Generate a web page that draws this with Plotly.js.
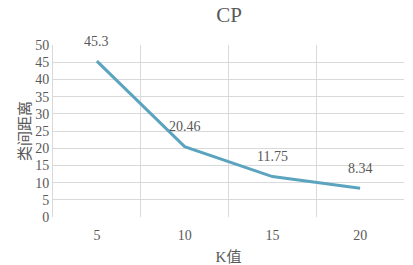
<!DOCTYPE html>
<html><head><meta charset="utf-8">
<script src="https://cdn.plot.ly/plotly-3.0.1.min.js"></script>
<style>html,body{margin:0;padding:0;background:#fff}#c{width:413px;height:265px}</style>
</head><body><div id="c"></div>
<script>
const categories = ['5', '10', '15', '20'];
const values = [45.3, 20.46, 11.75, 8.34];
const labels = ['45.3', '20.46', '11.75', '8.34'];
const chartTitle = 'CP';
const xTitle = 'K值';
const yTitle = '类间距离';

const serif = 'Liberation Serif, Times New Roman, Noto Serif CJK SC, Noto Sans CJK SC, serif';
const cjk = 'Liberation Serif, Noto Sans CJK SC, sans-serif';
const grid = '#d9d9d9';
const txt = '#595959';

const trace = {
  x: categories, y: values, type: 'scatter', mode: 'lines',
  line: {color: '#5BA4BF', width: 3}, hoverinfo: 'none'
};
const annotations = categories.map((c, i) => ({
  x: i, y: values[i], text: labels[i], showarrow: false, yshift: 20,
  font: {family: serif, size: 14, color: txt}
}));
const layout = {
  width: 413, height: 265,
  margin: {l: 53, r: 9, t: 45, b: 48},
  paper_bgcolor: '#fff', plot_bgcolor: '#fff',
  showlegend: false,
  title: {text: chartTitle, x: 0.555, xanchor: 'center', y: 0.945, yanchor: 'middle',
          font: {family: serif, size: 21, color: txt}},
  xaxis: {type: 'category', categoryorder: 'array', categoryarray: categories,
          range: [-0.5, categories.length - 0.5], autorange: false,
          tickson: 'boundaries', showgrid: true, gridcolor: grid, gridwidth: 1,
          ticks: '', showline: false, zeroline: false, tickangle: 0, ticklabelstandoff: 8,
          tickfont: {family: serif, size: 14, color: txt},
          title: {text: xTitle, standoff: 10, font: {family: cjk, size: 15, color: txt}}},
  yaxis: {range: [0, 50], autorange: false, dtick: 5, showgrid: true, gridcolor: grid, gridwidth: 1,
          zeroline: false, showline: true, linecolor: grid, linewidth: 1, ticks: '',
          tickfont: {family: serif, size: 14, color: txt},
          title: {text: yTitle, standoff: 0, font: {family: cjk, size: 15, color: txt}}},
  annotations: annotations
};
Plotly.newPlot('c', [trace], layout, {staticPlot: true, displayModeBar: false});
</script></body></html>
